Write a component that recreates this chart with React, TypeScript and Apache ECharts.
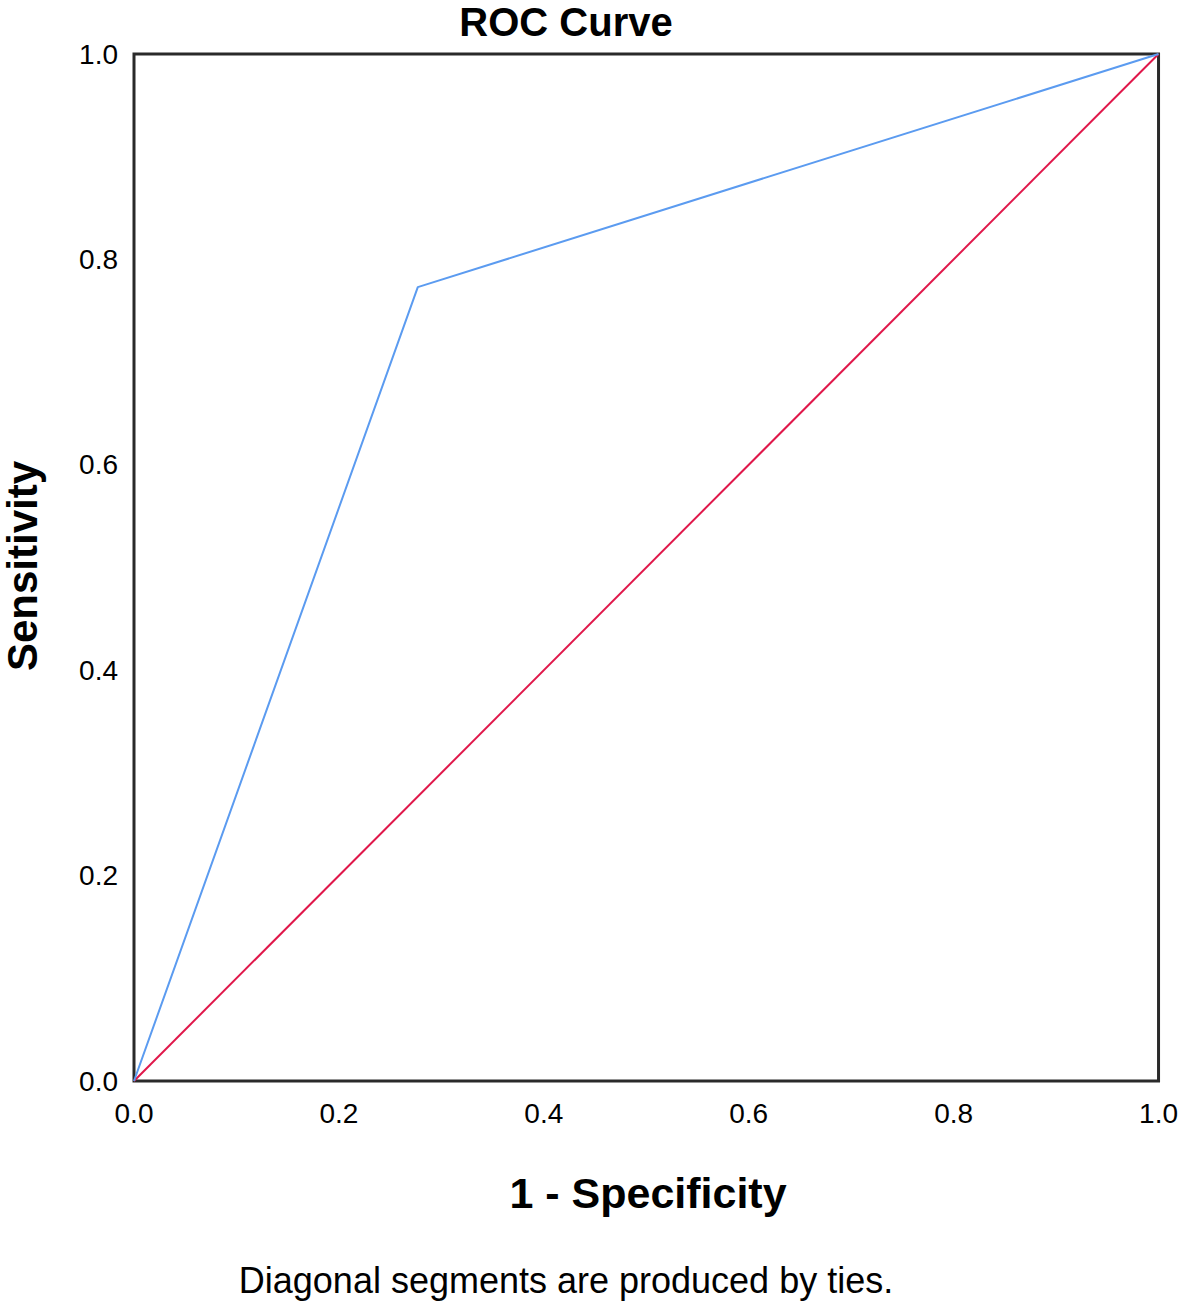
import React, { useEffect, useRef } from "react";
import * as echarts from "echarts";

const rocX = [0, 0.277, 1];
const rocY = [0, 0.773, 1];
const refX = [0, 1];
const refY = [0, 1];
const tickLabels = ["0.0", "0.2", "0.4", "0.6", "0.8", "1.0"];

export default function App() {
  const ref = useRef<HTMLDivElement>(null);
  useEffect(() => {
    const chart = echarts.init(ref.current!, null, { renderer: "svg" });
    const font = "Liberation Sans, Arial, sans-serif";
    chart.setOption({
      animation: false,
      backgroundColor: "#fff",
      grid: {
        left: 134,
        top: 54,
        right: 21,
        bottom: 221,
        show: true,
        borderColor: "#2a2a2a",
        borderWidth: 3,
      },
      xAxis: {
        type: "value",
        min: 0,
        max: 1,
        interval: 0.2,
        axisLine: { show: false },
        axisTick: { show: false },
        splitLine: { show: false },
        axisLabel: {
          margin: 18,
          fontSize: 28,
          color: "#000",
          fontFamily: font,
          formatter: (v: number) => tickLabels[Math.round(v * 5)],
        },
      },
      yAxis: {
        type: "value",
        min: 0,
        max: 1,
        interval: 0.2,
        axisLine: { show: false },
        axisTick: { show: false },
        splitLine: { show: false },
        axisLabel: {
          margin: 16,
          fontSize: 28,
          color: "#000",
          fontFamily: font,
          formatter: (v: number) => tickLabels[Math.round(v * 5)],
        },
      },
      graphic: [
        {
          type: "text",
          x: 566,
          y: 2,
          style: {
            text: "ROC Curve",
            font: `bold 40px ${font}`,
            lineHeight: 40,
            fill: "#000",
            textAlign: "center",
            textVerticalAlign: "top",
          },
        },
        {
          type: "text",
          x: 648,
          y: 1193,
          style: {
            text: "1 - Specificity",
            font: `bold 43px ${font}`,
            fill: "#000",
            textAlign: "center",
            textVerticalAlign: "middle",
          },
        },
        {
          type: "text",
          x: 22,
          y: 566,
          rotation: Math.PI / 2,
          style: {
            text: "Sensitivity",
            font: `bold 42px ${font}`,
            fill: "#000",
            textAlign: "center",
            textVerticalAlign: "middle",
          },
        },
        {
          type: "text",
          x: 566,
          y: 1280,
          style: {
            text: "Diagonal segments are produced by ties.",
            font: `36px ${font}`,
            fill: "#000",
            textAlign: "center",
            textVerticalAlign: "middle",
          },
        },
      ],
      series: [
        {
          type: "line",
          data: refX.map((x, i) => [x, refY[i]]),
          symbol: "none",
          lineStyle: { color: "#E0174A", width: 2 },
          z: 2,
        },
        {
          type: "line",
          data: rocX.map((x, i) => [x, rocY[i]]),
          symbol: "none",
          lineStyle: { color: "#5B9BF0", width: 2 },
          z: 3,
        },
      ],
    });
    return () => chart.dispose();
  }, []);
  return (
    <div
      ref={ref}
      style={{ position: "absolute", left: 0, top: 0, width: 1181, height: 1302 }}
    />
  );
}
